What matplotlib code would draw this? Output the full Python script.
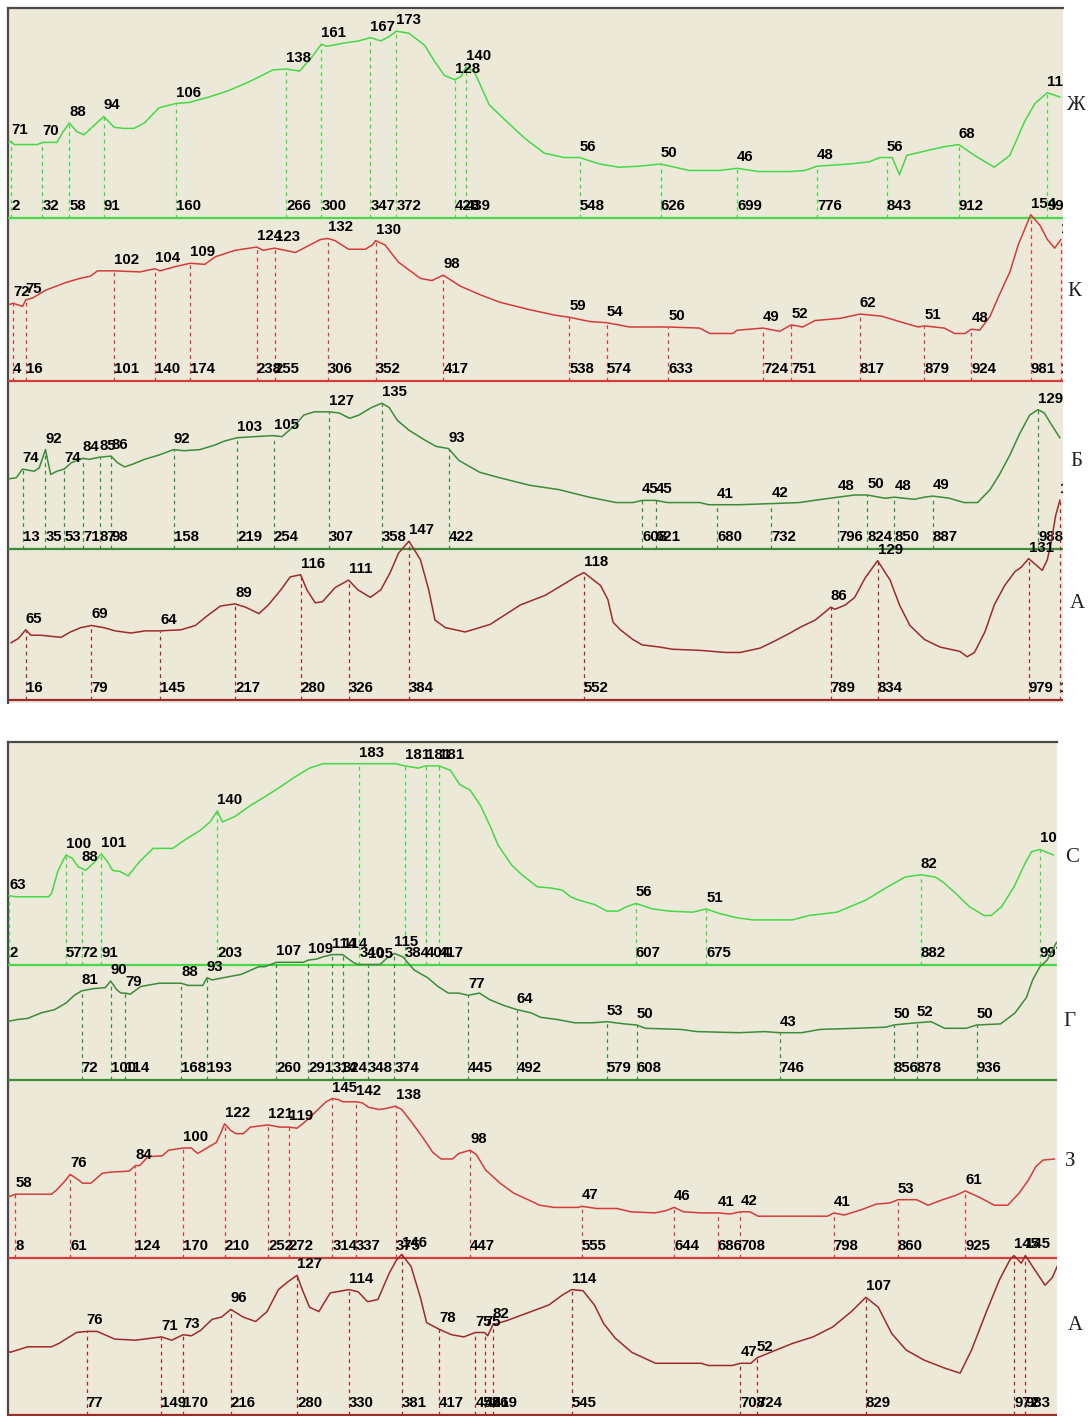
import matplotlib.pyplot as plt

W, H = 1088, 1416
BG = '#ece9d8'
LIME = '#46d846'
GREEN = '#3a8c3a'
RED = '#d43c3c'
BROWN = '#9e2b2b'

# ---- top panel: Ж, К, Б, А ----
zh_peak_pos = [2, 32, 58, 91, 160, 266, 300, 347, 372, 428, 439, 548, 626, 699, 776, 843, 912, 997]
zh_peak_val = [71, 70, 88, 94, 106, 138, 161, 167, 173, 128, 140, 56, 50, 46, 48, 56, 68, 116]
zh_trace = [(0, 70), (5, 68), (27, 68), (46, 70), (52, 80), (65, 80), (72, 77), (82, 86),
            (101, 84), (110, 83), (120, 83), (130, 88), (144, 102), (173, 107), (192, 112),
            (211, 118), (228, 125), (243, 132), (253, 137), (279, 136), (290, 148), (305, 159),
            (322, 162), (336, 164), (357, 164), (365, 168), (384, 171), (399, 160), (408, 146),
            (418, 132), (434, 131), (447, 135), (461, 105), (476, 91), (495, 74), (514, 60),
            (533, 56), (567, 50), (586, 47), (605, 48), (653, 44), (682, 44), (720, 43),
            (749, 43), (764, 44), (807, 50), (826, 52), (836, 56), (848, 56), (855, 40),
            (862, 58), (884, 63), (898, 66), (927, 58), (946, 47), (961, 58), (975, 89),
            (985, 106), (1009, 112)]

k_peak_pos = [4, 16, 101, 140, 174, 238, 255, 306, 352, 417, 538, 574, 633, 724, 751, 817, 879, 924, 981, 1010]
k_peak_val = [72, 75, 102, 104, 109, 124, 123, 132, 130, 98, 59, 54, 50, 49, 52, 62, 51, 48, 154, 131]
k_trace = [(1, 71), (13, 69), (23, 77), (35, 84), (54, 91), (68, 95), (78, 97), (85, 102),
           (126, 101), (145, 102), (160, 106), (188, 108), (198, 115), (217, 121), (244, 121),
           (275, 119), (289, 126), (299, 131), (313, 130), (326, 122), (342, 122), (349, 126),
           (361, 126), (374, 110), (395, 95), (406, 93), (433, 88), (452, 80), (471, 73),
           (500, 66), (524, 61), (558, 55), (596, 50), (615, 50), (663, 49), (673, 44),
           (695, 44), (699, 47), (740, 46), (762, 50), (774, 56), (798, 58), (838, 60),
           (855, 55), (873, 50), (898, 49), (908, 44), (918, 44), (932, 47), (942, 60),
           (951, 80), (961, 101), (969, 126), (975, 140), (990, 144), (997, 131), (1004, 123)]

b_peak_pos = [13, 35, 53, 71, 87, 98, 158, 219, 254, 307, 358, 422, 608, 621, 680, 732, 796, 824, 850, 887, 988]
b_peak_val = [74, 92, 74, 84, 85, 86, 92, 103, 105, 127, 135, 93, 45, 45, 41, 42, 48, 50, 48, 49, 129]
b_trace = [(0, 65), (7, 66), (24, 72), (29, 75), (40, 69), (46, 72), (60, 80), (77, 83),
           (104, 80), (111, 76), (120, 79), (130, 83), (144, 87), (168, 91), (183, 92),
           (197, 96), (207, 100), (235, 104), (262, 104), (274, 114), (283, 124), (293, 127),
           (317, 126), (327, 121), (336, 124), (348, 131), (365, 131), (373, 119), (384, 110),
           (399, 101), (410, 95), (432, 82), (452, 71), (471, 66), (500, 59), (528, 55),
           (557, 48), (583, 43), (599, 43), (632, 43), (663, 43), (672, 41), (701, 41),
           (730, 42), (759, 43), (773, 45), (812, 50), (841, 47), (869, 46), (879, 48),
           (903, 47), (917, 43), (930, 43), (942, 55), (951, 69), (961, 87), (970, 106),
           (980, 124), (994, 126), (1001, 115), (1009, 103)]

a1_peak_pos = [16, 79, 145, 217, 280, 326, 384, 552, 789, 834, 979, 1009]
a1_peak_val = [65, 69, 64, 89, 116, 111, 147, 118, 86, 129, 131, 185]
a1_trace = [(2, 53), (9, 57), (21, 60), (30, 60), (50, 58), (59, 63), (69, 67), (91, 67),
            (102, 64), (117, 62), (131, 64), (165, 65), (179, 69), (189, 77), (203, 87),
            (227, 86), (240, 80), (249, 88), (261, 102), (270, 114), (286, 102), (294, 90),
            (301, 91), (313, 104), (335, 102), (347, 95), (357, 102), (366, 118), (374, 136),
            (395, 130), (403, 102), (409, 74), (419, 67), (438, 63), (462, 70), (491, 88),
            (515, 97), (534, 108), (544, 114), (568, 106), (575, 93), (580, 72), (587, 65),
            (599, 56), (608, 51), (625, 49), (637, 47), (663, 46), (688, 44), (702, 44),
            (721, 48), (734, 54), (750, 62), (759, 67), (774, 74), (783, 81), (793, 84),
            (803, 88), (812, 95), (822, 113), (846, 111), (855, 88), (865, 69), (879, 56),
            (894, 49), (913, 45), (920, 40), (927, 44), (937, 63), (946, 88), (956, 106),
            (966, 119), (972, 123), (985, 126), (992, 120), (997, 130), (1001, 148), (1005, 171)]

# ---- bottom panel: С, Г, З, А ----
s_peak_pos = [2, 57, 72, 91, 203, 340, 384, 404, 417, 607, 675, 882, 997]
s_peak_val = [63, 100, 88, 101, 140, 183, 181, 181, 181, 56, 51, 82, 105]
s_trace = [(9, 62), (40, 62), (43, 65), (49, 85), (54, 95), (63, 97), (69, 89), (76, 86),
           (85, 94), (97, 94), (102, 86), (109, 85), (117, 81), (128, 94), (141, 106),
           (160, 106), (172, 114), (186, 122), (196, 130), (208, 130), (220, 135), (235, 145),
           (249, 153), (264, 162), (278, 171), (292, 179), (305, 183), (375, 183), (397, 179),
           (428, 177), (437, 164), (447, 159), (457, 145), (466, 127), (474, 109), (487, 91),
           (497, 82), (512, 71), (525, 70), (536, 68), (544, 62), (552, 59), (567, 55),
           (579, 49), (590, 49), (598, 53), (623, 51), (639, 49), (662, 48), (687, 47),
           (704, 43), (720, 41), (758, 41), (774, 45), (801, 48), (829, 59), (850, 71),
           (867, 80), (896, 80), (904, 75), (917, 64), (929, 53), (943, 45), (950, 45),
           (960, 53), (972, 71), (983, 93), (989, 103), (1010, 100)]

g_peak_pos = [72, 100, 114, 168, 193, 260, 291, 314, 324, 348, 374, 445, 492, 579, 608, 746, 856, 878, 936]
g_peak_val = [81, 90, 79, 88, 93, 107, 109, 114, 114, 105, 115, 77, 64, 53, 50, 43, 50, 52, 50]
g_trace = [(0, 53), (10, 55), (20, 56), (33, 61), (46, 64), (57, 70), (65, 77), (83, 83),
           (95, 84), (106, 82), (110, 79), (119, 78), (129, 85), (147, 88), (175, 86),
           (189, 86), (198, 91), (209, 93), (226, 96), (243, 103), (249, 103), (286, 107),
           (299, 110), (305, 112), (334, 107), (339, 105), (360, 105), (367, 111), (382, 112),
           (393, 100), (406, 93), (416, 85), (426, 79), (436, 79), (456, 79), (466, 73),
           (479, 68), (506, 61), (515, 57), (531, 55), (548, 52), (565, 52), (596, 51),
           (616, 47), (650, 46), (666, 44), (707, 43), (731, 44), (767, 43), (785, 46),
           (819, 47), (848, 48), (866, 51), (892, 53), (905, 47), (926, 47), (959, 51),
           (973, 61), (984, 75), (990, 91), (997, 103), (1004, 109), (1013, 125)]

z_peak_pos = [8, 61, 124, 170, 210, 252, 272, 314, 337, 375, 447, 555, 644, 686, 708, 798, 860, 925]
z_peak_val = [58, 76, 84, 100, 122, 121, 119, 145, 142, 138, 98, 47, 46, 41, 42, 41, 53, 61]
z_trace = [(0, 55), (20, 58), (43, 58), (48, 62), (55, 69), (69, 71), (73, 68), (81, 68),
           (92, 77), (99, 78), (118, 79), (128, 84), (136, 92), (150, 93), (156, 98),
           (178, 100), (184, 95), (193, 100), (202, 105), (207, 115), (216, 116), (221, 113),
           (228, 113), (235, 119), (263, 119), (280, 118), (288, 124), (298, 133), (308, 142),
           (320, 144), (324, 142), (343, 141), (349, 137), (359, 135), (366, 136), (381, 135),
           (391, 123), (401, 110), (411, 96), (419, 90), (430, 90), (436, 95), (453, 94),
           (462, 80), (476, 68), (489, 59), (503, 53), (514, 48), (528, 46), (551, 46),
           (569, 45), (589, 45), (602, 42), (625, 41), (636, 43), (653, 42), (670, 41),
           (698, 40), (717, 42), (725, 38), (751, 38), (792, 38), (808, 39), (825, 44),
           (839, 49), (852, 50), (878, 53), (889, 48), (903, 53), (916, 57), (939, 55),
           (953, 48), (966, 48), (977, 59), (986, 71), (993, 83), (1000, 89), (1011, 90)]

a2_peak_pos = [77, 149, 170, 216, 280, 330, 381, 417, 452, 461, 469, 545, 708, 724, 829, 972, 983]
a2_peak_val = [76, 71, 73, 96, 127, 114, 146, 78, 75, 75, 82, 114, 47, 52, 107, 145, 145]
a2_trace = [(0, 59), (3, 57), (20, 62), (43, 62), (50, 65), (67, 75), (87, 76), (104, 69),
            (124, 68), (159, 68), (178, 72), (187, 77), (198, 87), (207, 89), (228, 89),
            (240, 85), (251, 94), (262, 114), (271, 121), (285, 114), (292, 98), (301, 94),
            (312, 111), (339, 112), (348, 103), (358, 105), (369, 129), (376, 141), (390, 135),
            (399, 107), (405, 84), (429, 73), (441, 71), (464, 72), (483, 86), (503, 93),
            (523, 100), (536, 109), (556, 113), (567, 100), (576, 83), (587, 70), (603, 57),
            (626, 47), (670, 47), (677, 45), (700, 45), (718, 47), (737, 57), (758, 65),
            (778, 71), (797, 80), (815, 94), (841, 98), (854, 74), (868, 59), (885, 50),
            (904, 43), (920, 38), (931, 59), (945, 93), (958, 123), (968, 141), (979, 138),
            (992, 132), (1002, 118), (1009, 125), (1015, 138)]

fig = plt.figure(figsize=(W / 100, H / 100), dpi=100)
fig.patch.set_facecolor('white')

LABEL_FONT = dict(family=['Liberation Sans', 'DejaVu Sans'], fontsize=10.8, fontweight='bold', color='black')


def px_axes(box):
    l, t, r, b = box
    return fig.add_axes([l / W, 1 - b / H, (r - l) / W, (b - t) / H])


def panel_background(box):
    ax = px_axes(box)
    ax.set_facecolor(BG)
    ax.set_xticks([])
    ax.set_yticks([])
    for side in ('right', 'bottom'):
        ax.spines[side].set_visible(False)
    for side in ('top', 'left'):
        ax.spines[side].set_color('#4a4a4a')
        ax.spines[side].set_linewidth(1.6)


def draw_strip(box, xlim, zero_px, scale, trace, peak_pos, peak_val, color):
    l, t, r, b = box
    ax = px_axes(box)
    ax.set_facecolor('none')
    ax.set_xlim(*xlim)
    ax.set_ylim(-(b - zero_px) / scale, (zero_px - t) / scale)
    ax.axis('off')

    pts = sorted(trace + list(zip(peak_pos, peak_val)))
    xs = [p[0] for p in pts]
    ys = [p[1] for p in pts]
    ax.axhline(0, color=color, lw=1.6)
    ax.vlines(peak_pos, 0, peak_val, colors=color, linestyles=(0, (3, 3)), lw=0.9)
    ax.plot(xs, ys, color=color, lw=1.1)

    for p, v in zip(peak_pos, peak_val):
        ax.annotate(str(v), (p, v), xytext=(0, 7), textcoords='offset pixels',
                    ha='left', va='baseline', clip_on=True, annotation_clip=False, **LABEL_FONT)
        ax.annotate(str(p), (p, 0), xytext=(0, 8), textcoords='offset pixels',
                    ha='left', va='baseline', clip_on=True, annotation_clip=False, **LABEL_FONT)


top_box = (8, 8, 1063, 703)
top_xlim = (-0.96, 1012.0)
panel_background(top_box)
draw_strip(top_box, top_xlim, 218, 1.08, zh_trace, zh_peak_pos, zh_peak_val, LIME)
draw_strip(top_box, top_xlim, 381, 1.08, k_trace, k_peak_pos, k_peak_val, RED)
draw_strip(top_box, top_xlim, 549, 1.08, b_trace, b_peak_pos, b_peak_val, GREEN)
draw_strip(top_box, top_xlim, 700, 1.08, a1_trace, a1_peak_pos, a1_peak_val, BROWN)

bot_box = (8, 742, 1057, 1416)
bot_xlim = (0.97, 1013.5)
panel_background(bot_box)
draw_strip(bot_box, bot_xlim, 965, 1.1, s_trace, s_peak_pos, s_peak_val, LIME)
draw_strip(bot_box, bot_xlim, 1080, 1.1, g_trace, g_peak_pos, g_peak_val, GREEN)
draw_strip(bot_box, bot_xlim, 1258, 1.1, z_trace, z_peak_pos, z_peak_val, RED)
draw_strip(bot_box, bot_xlim, 1415, 1.1, a2_trace, a2_peak_pos, a2_peak_val, BROWN)

# sample letters to the right of each trace
letters = [('Ж', 1076, 105), ('К', 1074, 292), ('Б', 1076, 461), ('А', 1077, 604),
           ('С', 1072, 857), ('Г', 1069, 1021), ('З', 1070, 1161), ('А', 1075, 1326)]
for s, x, y in letters:
    fig.text(x / W, 1 - y / H, s, ha='center', va='center',
             family=['Liberation Serif', 'DejaVu Serif'], fontsize=15, color='#222222')

fig.savefig('out.png', dpi=100, facecolor='white')
